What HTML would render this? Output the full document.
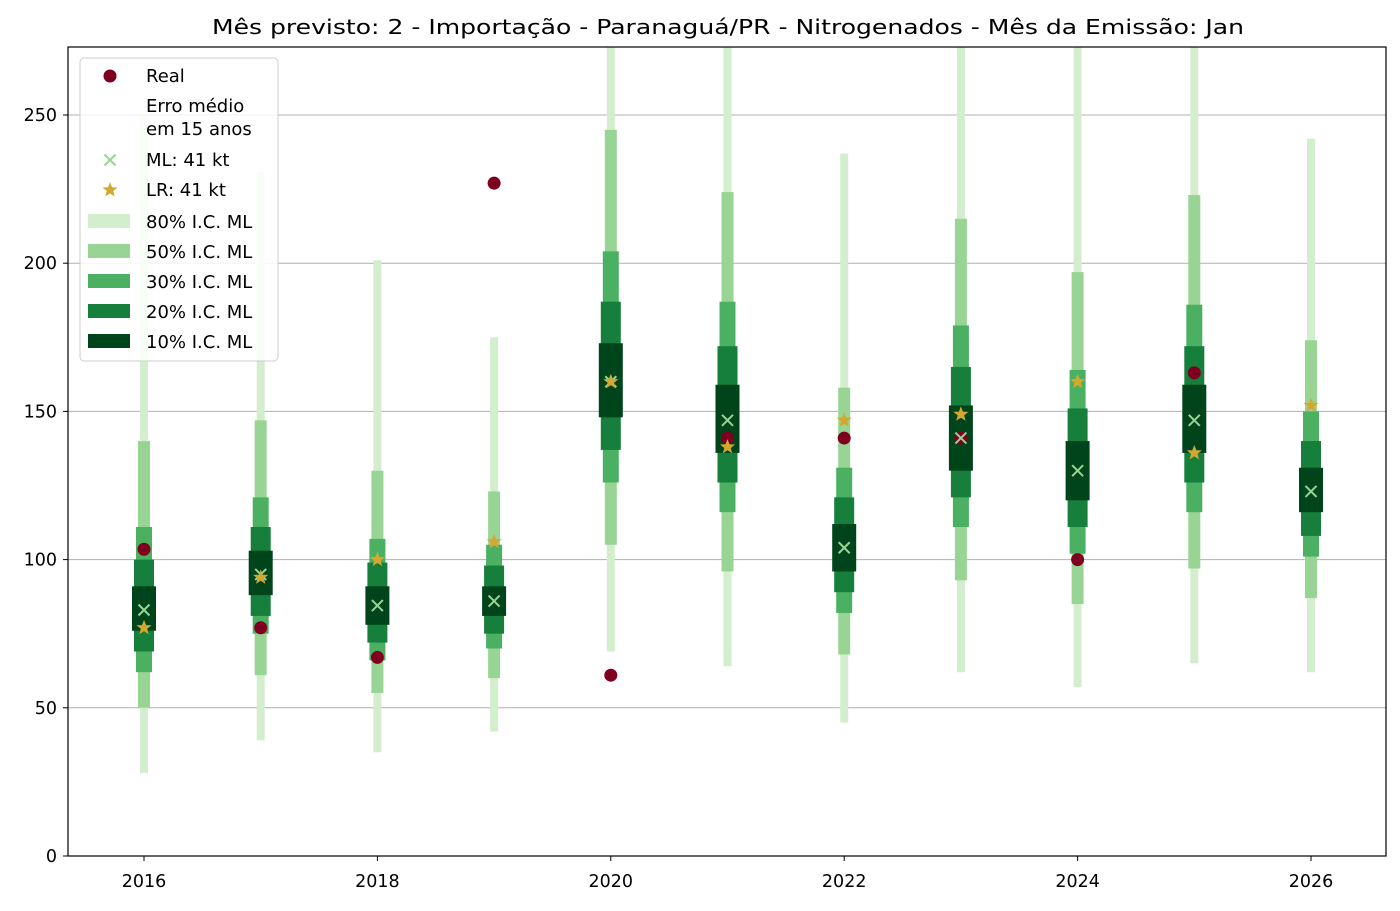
<!DOCTYPE html>
<html><head><meta charset="utf-8"><style>body{margin:0;background:#fff}svg{font-family:"DejaVu Sans","Liberation Sans",sans-serif}</style></head>
<body>
<svg id="chart" width="1400" height="906" xmlns="http://www.w3.org/2000/svg">
<rect width="1400" height="906" fill="#fff"/>
<text x="728" y="34" text-anchor="middle" font-size="20" textLength="1032" lengthAdjust="spacingAndGlyphs">Mês previsto: 2 - Importação - Paranaguá/PR - Nitrogenados - Mês da Emissão: Jan</text>
<defs><clipPath id="plotclip"><rect x="68" y="47" width="1318" height="809"/></clipPath></defs>
<g id="grid"></g>
<g id="marks" clip-path="url(#plotclip)"></g>
<rect x="68" y="47" width="1318" height="809" fill="none" stroke="#000" stroke-width="1.2"/>
<g id="axes"></g>
<g id="legend"></g>
</svg>
<script>
const years=[2016,2017,2018,2019,2020,2021,2022,2023,2024,2025,2026];
const ci80=[[28,250],[39,231],[35,201],[42,175],[69,290],[64,290],[45,237],[62,290],[57,290],[65,290],[62,242]];
const ci50=[[50,140],[61,147],[55,130],[60,123],[105,245],[96,224],[68,158],[93,215],[85,197],[97,223],[87,174]];
const ci30=[[62,111],[75,121],[66,107],[70,105],[126,204],[116,187],[82,131],[111,179],[102,164],[116,186],[101,150]];
const ci20=[[69,100],[81,111],[72,99],[75,98],[137,187],[126,172],[89,121],[121,165],[111,151],[126,172],[108,140]];
const ci10=[[76,91],[88,103],[78,91],[81,91],[148,173],[136,159],[96,112],[130,152],[120,140],[136,159],[116,131]];
const ml=[83,95,84.5,86,160,147,104,141,130,147,123];
const lr=[77,94,100,106,160,138,147,149,160,136,152];
const real=[103.5,77,67,227,61,141,141,141,100,163,null];
const yTicks=[0,50,100,150,200,250];
const xTicks=[2016,2018,2020,2022,2024,2026];
const NS="http://www.w3.org/2000/svg";
const X=v=>144+(v-2016)*116.7;
const Y=v=>856-v*2.964;
function mk(tag,attrs,parent){const e=document.createElementNS(NS,tag);for(const k in attrs)e.setAttribute(k,attrs[k]);parent.appendChild(e);return e;}
const grid=document.getElementById('grid'),marks=document.getElementById('marks'),axes=document.getElementById('axes'),leg=document.getElementById('legend');
yTicks.forEach(t=>{
 const g=mk('line',{x1:68,x2:1386,y1:Y(t),y2:Y(t),stroke:'#b0b0b0','stroke-width':1},grid);
 
 
 const tk=mk('line',{x1:63,x2:68,y1:Y(t),y2:Y(t),stroke:'#000'},axes);
 
 
 const tx=mk('text',{x:57,y:Y(t)+6,'text-anchor':'end','font-size':17.5},axes);tx.textContent=t;
 
 
});
xTicks.forEach(t=>{
 const tk=mk('line',{x1:X(t),x2:X(t),y1:856,y2:861,stroke:'#000'},axes);
 
 
 const tx=mk('text',{x:X(t),y:887,'text-anchor':'middle','font-size':17.5},axes);tx.textContent=t;
 
 
});
const bands=[[ci80,8,'#d3eecd','ci80-bar'],[ci50,12,'#98d594','ci50-bar'],[ci30,16,'#4bb062','ci30-bar'],[ci20,20,'#157f3b','ci20-bar'],[ci10,24,'#00441b','ci10-bar']];
function star(cx,cy,r,fill,parent){let p='';for(let i=0;i<10;i++){const a=-Math.PI/2+i*Math.PI/5;const rr=i%2?r*0.42:r;p+=(i?'L':'M')+(cx+rr*Math.cos(a)).toFixed(1)+' '+(cy+rr*Math.sin(a)).toFixed(1);}return mk('path',{d:p+'Z',fill:fill},parent);}
function cross(cx,cy,s,col,parent){return mk('path',{d:`M${cx-s} ${cy-s}L${cx+s} ${cy+s}M${cx-s} ${cy+s}L${cx+s} ${cy-s}`,stroke:col,'stroke-width':2,fill:'none'},parent);}
years.forEach((yr,i)=>{
 bands.forEach(([arr,w,c,n])=>{
  const r=mk('rect',{x:X(yr)-w/2,y:Y(arr[i][1]),width:w,height:Y(arr[i][0])-Y(arr[i][1]),fill:c},marks);
  
  
 });
 if(real[i]!==null){const c=mk('circle',{cx:X(yr),cy:Y(real[i]),r:6.5,fill:'#7f001e'},marks);
  
  }
 const m=cross(X(yr),Y(ml[i]),5.5,'#98d594',marks);
 
 
 const s=star(X(yr),Y(lr[i]),8,'#d4a830',marks);
 
 
});
const lb=mk('rect',{x:80,y:58,width:198,height:303,rx:4,fill:'#fff','fill-opacity':0.85,stroke:'#ccc'},leg);


function ltext(t,y){const e=mk('text',{x:146,y:y,'font-size':18},leg);e.textContent=t;return e;}
let e;
e=mk('circle',{cx:110,cy:76,r:6.5,fill:'#7f001e'},leg);
e=ltext('Real',82);
e=ltext('Erro médio',112);
e=ltext('em 15 anos',135);
e=cross(110,160,5.5,'#98d594',leg);
e=ltext('ML: 41 kt',166);
e=star(110,190,8,'#d4a830',leg);
e=ltext('LR: 41 kt',196);
const labs=['80% I.C. ML','50% I.C. ML','30% I.C. ML','20% I.C. ML','10% I.C. ML'];
bands.forEach(([a,w,c,n],k)=>{
 const yy=221+k*30;
 const r=mk('rect',{x:88,y:yy-7,width:42,height:14,fill:c},leg);
 
 
 const t=ltext(labs[k],yy+7);
 
 
});
</script>
</body></html>
